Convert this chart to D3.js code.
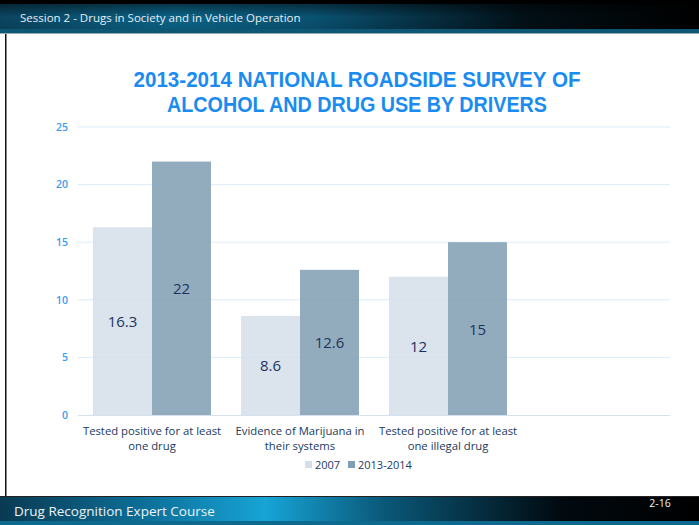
<!DOCTYPE html>
<html><head><meta charset="utf-8">
<script src="https://cdn.jsdelivr.net/npm/d3@7"></script>
<style>html,body{margin:0;padding:0;background:#fff;overflow:hidden}</style>
</head><body>
<svg id="c" width="699" height="525"></svg>
<script>
const categories = [["Tested positive for at least","one drug"],["Evidence of Marijuana in","their systems"],["Tested positive for at least","one illegal drug"],["",""]];
const seriesNames = ["2007","2013-2014"];
const values2007 = [16.3, 8.6, 12];
const values2013 = [22, 12.6, 15];
const yTicks = [0,5,10,15,20,25];
const titleLines = ["2013-2014 NATIONAL ROADSIDE SURVEY OF","ALCOHOL AND DRUG USE BY DRIVERS"];
const headerText = "Session 2 - Drugs in Society and in Vehicle Operation";
const footerText = "Drug Recognition Expert Course";
const pageText = "2-16";

const svg = d3.select("#c");
const defs = svg.append("defs");
const g1 = defs.append("linearGradient").attr("id","hdr").attr("x1","0").attr("x2","1").attr("y1","0").attr("y2","0");
[[0,"#0b4560"],[0.25,"#0c6488"],[0.45,"#0a5272"],[0.75,"#021017"],[1,"#000"]].forEach(s=>g1.append("stop").attr("offset",s[0]).attr("stop-color",s[1]));
const g2 = defs.append("linearGradient").attr("id","ftr").attr("x1","0").attr("x2","1").attr("y1","0").attr("y2","0");
[[0,"#0a3a52"],[0.2,"#0c6d96"],[0.38,"#17a4d6"],[0.55,"#0a5878"],[0.8,"#010a10"],[1,"#000"]].forEach(s=>g2.append("stop").attr("offset",s[0]).attr("stop-color",s[1]));
const gv = defs.append("linearGradient").attr("id","shade").attr("x1","0").attr("x2","0").attr("y1","0").attr("y2","1");
[[0,"#000",0.45],[0.5,"#000",0],[1,"#000",0.1]].forEach(s=>gv.append("stop").attr("offset",s[0]).attr("stop-color",s[1]).attr("stop-opacity",s[2]));

// header
svg.append("rect").attr("x",0).attr("y",0).attr("width",699).attr("height",4).attr("fill","#000");
svg.append("rect").attr("x",0).attr("y",4).attr("width",699).attr("height",26).attr("fill","url(#hdr)");
svg.append("rect").attr("x",0).attr("y",4).attr("width",699).attr("height",26).attr("fill","url(#shade)");
svg.append("rect").attr("x",0).attr("y",29).attr("width",699).attr("height",4).attr("fill","#0d5674");
svg.append("rect").attr("x",0).attr("y",33).attr("width",699).attr("height",1).attr("fill","#9aa6ad");
svg.append("text").attr("x",20).attr("y",22).attr("fill","#e8eef2")
  .style("font-family","'Open Sans',sans-serif").style("font-size","11.5px").text(headerText);
// left border
svg.append("rect").attr("x",5).attr("y",34).attr("width",1.5).attr("height",463).attr("fill","#111");

// footer
svg.append("rect").attr("x",0).attr("y",496).attr("width",699).attr("height",1.5).attr("fill","#222");
svg.append("rect").attr("x",0).attr("y",497).attr("width",699).attr("height",24).attr("fill","url(#ftr)");
svg.append("rect").attr("x",0).attr("y",521).attr("width",699).attr("height",4).attr("fill","#0d6a8e");
svg.append("text").attr("x",14).attr("y",516).attr("fill","#eef3f6")
  .style("font-family","'Open Sans',sans-serif").style("font-size","13.5px").text(footerText);
svg.append("text").attr("x",660).attr("y",507).attr("fill","#eef3f6").attr("text-anchor","middle")
  .style("font-family","'Open Sans',sans-serif").style("font-size","10.5px").text(pageText);

// title
titleLines.forEach((t,i)=>{
  const target = i===0 ? 447 : 380;
  svg.append("text").attr("x",357).attr("y",87+i*24.5).attr("text-anchor","middle")
    .attr("fill","#1a8cf0").style("font-family","'Liberation Sans',Arial,sans-serif").style("font-weight","bold")
    .style("font-size","21.3px").attr("textLength",target).attr("lengthAdjust","spacingAndGlyphs").text(t);
});

// chart
const x0 = d3.scaleBand().domain(d3.range(categories.length)).range([78,670]).paddingInner(0).paddingOuter(0);
const x1 = d3.scaleBand().domain(seriesNames).range([15, x0.bandwidth()-15]);
const y = d3.scaleLinear().domain([0,25]).range([415,127]);

const grid = svg.append("g");
grid.selectAll("line").data(yTicks.filter(d=>d>0)).join("line")
  .attr("x1",78).attr("x2",670).attr("y1",d=>y(d)).attr("y2",d=>y(d))
  .attr("stroke","#dcecfb").attr("stroke-width",1);

const yAxis = svg.append("g").attr("transform","translate(70,0)")
  .call(d3.axisLeft(y).tickValues(yTicks).tickSize(0).tickPadding(2));
yAxis.select(".domain").remove();
yAxis.selectAll("text").attr("fill","#3d9af2").style("font-family","'Open Sans',sans-serif").style("font-size","10.5px").style("font-weight","600");

const colors = {"2007":"#d5deea","2013-2014":"#7f9db3"};
const data = values2007.map((v,i)=>({i, vals:[{s:"2007",v},{s:"2013-2014",v:values2013[i]}]}));
const groups = svg.append("g").selectAll("g").data(data).join("g")
  .attr("transform",d=>`translate(${x0(d.i)},0)`);
groups.selectAll("rect").data(d=>d.vals).join("rect")
  .attr("x",d=>x1(d.s)).attr("width",x1.bandwidth())
  .attr("y",d=>y(d.v)).attr("height",d=>y(0)-y(d.v))
  .attr("fill",d=>colors[d.s]).attr("fill-opacity",0.85);
groups.selectAll("text").data(d=>d.vals).join("text")
  .attr("x",d=>x1(d.s)+x1.bandwidth()/2).attr("y",d=>(y(d.v)+y(0))/2+6)
  .attr("text-anchor","middle").attr("fill","#1c3360")
  .style("font-family","'Open Sans',sans-serif").style("font-size","15px").text(d=>d.v);

// x axis line
svg.append("line").attr("x1",78).attr("x2",670).attr("y1",y(0)+0.5).attr("y2",y(0)+0.5).attr("stroke","#d4e2f0").attr("stroke-width",1.2);

// category labels
const cl = svg.append("g").selectAll("text").data(categories.map((c,i)=>({c,i}))).join("text")
  .attr("x",d=>x0(d.i)+x0.bandwidth()/2).attr("y",435).attr("text-anchor","middle")
  .attr("fill","#203a62").style("font-family","'Open Sans',sans-serif").style("font-size","11.3px");
cl.each(function(d){
  const t = d3.select(this);
  d.c.forEach((line,k)=>t.append("tspan").attr("x",x0(d.i)+x0.bandwidth()/2).attr("dy",k===0?0:14.5).text(line));
});

// legend
const lg = svg.append("g");
const legendItems = [{s:"2007",x:305},{s:"2013-2014",x:348}];
lg.selectAll("rect").data(legendItems).join("rect")
  .attr("x",d=>d.x).attr("y",461).attr("width",7).attr("height",7).attr("fill",d=>colors[d.s]);
lg.selectAll("text").data(legendItems).join("text")
  .attr("x",d=>d.x+10).attr("y",469).attr("fill","#203a62")
  .style("font-family","'Open Sans',sans-serif").style("font-size","11px").text(d=>d.s);
</script>
</body></html>
